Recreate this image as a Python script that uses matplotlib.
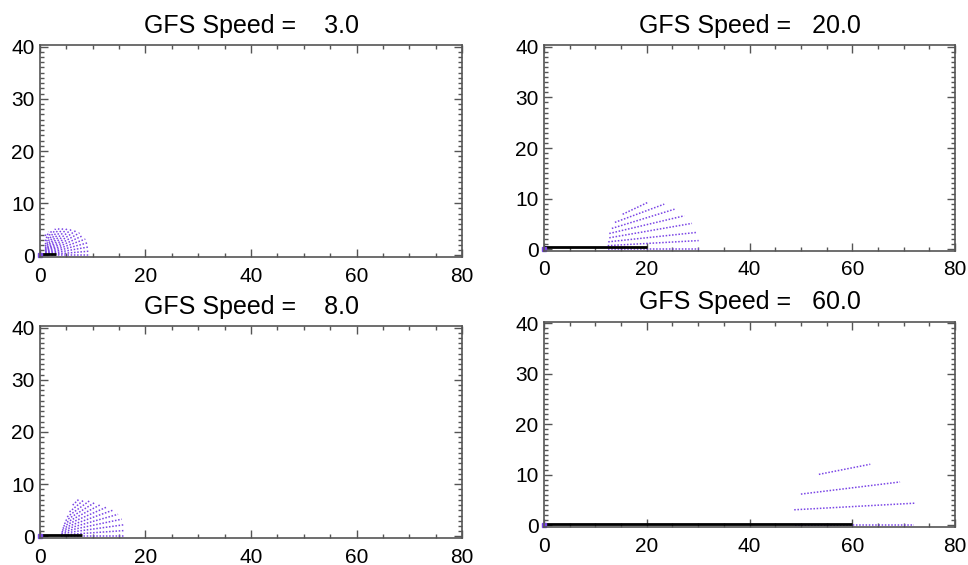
import matplotlib
matplotlib.use("Agg")
import matplotlib.pyplot as plt
from matplotlib.ticker import MultipleLocator

plt.rcParams['font.family'] = ['Liberation Sans', 'DejaVu Sans']

speeds = [3.0, 20.0, 8.0, 60.0]

# dotted segments (start x, start y, end x, end y)
seg_x0 = [
    [1.0, 1.0, 1.0, 1.0, 1.0, 1.0, 1.0, 1.0, 1.0, 1.0, 1.0, 1.0, 1.0, 1.0, 1.0, 1.0],
    [12.4, 12.4, 12.5, 12.7, 12.7, 13.2, 13.8, 15.3],
    [4.0, 4.0, 4.05, 4.1, 4.2, 4.3, 4.45, 4.6, 4.85, 5.15, 5.6, 6.2],
    [48.9, 48.7, 50.0, 53.5],
]
seg_y0 = [
    [0.0, 0.09, 0.18, 0.27, 0.36, 0.47, 0.58, 0.70, 0.84, 1.0, 1.19, 1.43, 1.73, 2.14, 2.75, 3.73],
    [0.0, 0.7, 1.45, 2.25, 3.1, 4.1, 5.3, 6.9],
    [0.0, 0.28, 0.57, 0.87, 1.2, 1.56, 1.98, 2.45, 3.03, 3.74, 4.7, 6.0],
    [0.0, 3.1, 6.2, 10.1],
]
seg_x1 = [
    [9.5, 9.45, 9.3, 9.0, 8.6, 8.1, 7.5, 6.8, 6.05, 5.3, 4.5, 3.7, 2.95, 2.25, 1.65, 1.15],
    [30.2, 30.1, 29.6, 28.8, 27.3, 25.4, 23.4, 20.1],
    [16.2, 16.1, 15.9, 15.5, 14.8, 13.8, 12.6, 11.5, 10.4, 9.4, 8.4, 7.3],
    [72.1, 72.1, 69.3, 63.5],
]
seg_y1 = [
    [0.0, 0.83, 1.64, 2.41, 3.13, 3.78, 4.33, 4.76, 5.08, 5.3, 5.36, 5.28, 5.11, 4.83, 4.53, 4.29],
    [0.0, 1.7, 3.3, 5.1, 6.6, 7.9, 8.9, 9.2],
    [0.0, 1.13, 2.23, 3.3, 4.24, 5.02, 5.6, 6.1, 6.5, 6.83, 7.05, 7.05],
    [0.0, 4.4, 8.6, 12.1],
]

# axes boxes in figure fractions (left, bottom, width, height)
boxes = [
    [0.0413, 0.5451, 0.436, 0.3752],
    [0.562, 0.5563, 0.4246, 0.3635],
    [0.0413, 0.0478, 0.436, 0.3752],
    [0.562, 0.0673, 0.4246, 0.3635],
]

purple = '#7a45e6'
axcol = '#555555'

fig = plt.figure(figsize=(9.68, 5.65), dpi=100)
for i in range(4):
    ax = fig.add_axes(boxes[i])
    for x0, y0, x1, y1 in zip(seg_x0[i], seg_y0[i], seg_x1[i], seg_y1[i]):
        ax.plot([x0, x1], [y0, y1], color=purple, lw=1.1, linestyle=(0, (1, 1.1)))
    ax.plot([0, speeds[i]], [0.35, 0.35], color='black', lw=2.0, solid_capstyle='butt')
    ax.plot([0], [0], marker='s', ms=3, color=purple, clip_on=False)

    ax.set_xlim(0, 80)
    ax.set_ylim(-0.3, 40.3)
    ax.xaxis.set_major_locator(MultipleLocator(20))
    ax.xaxis.set_minor_locator(MultipleLocator(5))
    ax.yaxis.set_major_locator(MultipleLocator(10))
    ax.yaxis.set_minor_locator(MultipleLocator(1))
    ax.tick_params(which='both', direction='in', top=True, right=True,
                   color=axcol, width=1.0, labelsize=15)
    ax.tick_params(which='major', length=6)
    ax.tick_params(which='minor', length=3)
    ax.tick_params(axis='x', pad=7)
    ax.tick_params(axis='y', pad=4)
    for s in ax.spines.values():
        s.set_color(axcol)
        s.set_linewidth(1.2)
    ax.set_title('GFS Speed =%7.1f' % speeds[i], fontsize=18, pad=9)

fig.savefig('out.png', dpi=100)
